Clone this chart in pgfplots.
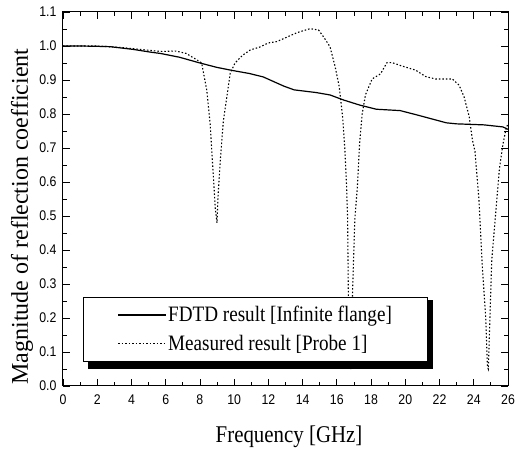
\documentclass[border=0pt]{standalone}
\usepackage{fontspec}
\setmainfont{Liberation Serif}
\newfontfamily\serifc[FakeStretch=0.87]{Liberation Serif}
\newfontfamily\tickf[FakeStretch=0.88]{Liberation Sans}
\usepackage{pgfplots}
\pgfplotsset{compat=1.18}

\begin{document}
\begin{tikzpicture}
\begin{axis}[
  scale only axis,
  width=445pt, height=374pt,
  xmin=0, xmax=26, ymin=0, ymax=1.1,
  xtick={0,2,...,26},
  ytick={0,0.1,0.2,0.3,0.4,0.5,0.6,0.7,0.8,0.9,1.0,1.1},
  minor x tick num=1, minor y tick num=1,
  tick align=inside,
  major tick length=7pt, minor tick length=4pt,
  every tick/.style={black, line width=0.8pt},
  axis line style={line width=1pt},
  tick label style={font=\tickf\fontsize{14}{16}\selectfont},
  /pgf/number format/assume math mode=true,
  yticklabel style={xshift=-3pt, /pgf/number format/fixed,
                    /pgf/number format/fixed zerofill, /pgf/number format/precision=1},
  xticklabel style={yshift=-5pt},
  xlabel={Frequency [GHz]},
  ylabel={Magnitude of reflection coefficient},
  xlabel style={at={(axis description cs:0.508,-0.152)}, anchor=base,
                font=\serifc\fontsize{24}{28}\selectfont},
  ylabel style={at={(axis description cs:-0.0787,0.453)}, anchor=base,
                font=\fontsize{24}{28}\selectfont},
  legend style={at={(axis description cs:0.045,0.064)}, anchor=south west,
                draw=black, line width=0.8pt, fill=white,
                font=\serifc\fontsize{22}{26}\selectfont,
                inner xsep=34pt, inner ysep=8pt, row sep=9pt,
                nodes={inner sep=1.5pt}},
  legend cell align=left,
  legend image code/.code={\draw[#1] (0pt,0pt) -- (48pt,0pt);},
]
% FDTD result
\addplot[black, line width=1.2pt] coordinates {
  (0,1.0) (1,1.0) (2,0.999) (2.75,0.998) (4.1,0.99) (5.1,0.982) (5.7,0.978)
  (6.8,0.967) (8.0,0.95) (9.0,0.937) (9.9,0.928) (10.9,0.919) (11.7,0.909)
  (12.9,0.882) (13.5,0.871) (14.8,0.863) (15.6,0.856) (16.4,0.841)
  (17.35,0.826) (18.3,0.814) (19.7,0.81) (20.7,0.797) (22.4,0.774)
  (23.0,0.771) (24.6,0.768) (25.7,0.762) (26,0.755)};
% Measured result
\addplot[black, line width=1.1pt, dash pattern=on 1.5pt off 2pt] coordinates {
  (0,1.0) (2,1.0) (3.3,0.996) (4.5,0.99) (5.7,0.984) (6.6,0.985) (7.2,0.978)
  (7.8,0.96) (8.1,0.95) (8.4,0.87) (8.6,0.77) (8.7,0.685) (8.8,0.605)
  (8.9,0.52) (9.0,0.48) (9.06,0.56) (9.2,0.67) (9.37,0.78) (9.6,0.86)
  (9.77,0.92) (10.05,0.95) (10.5,0.973) (10.93,0.988) (11.5,0.997)
  (12.0,1.009) (12.5,1.013) (13.66,1.039) (14.44,1.051) (14.93,1.047)
  (15.22,1.027) (15.6,0.998) (15.9,0.939) (16.14,0.88) (16.34,0.79)
  (16.47,0.694) (16.57,0.586) (16.63,0.488) (16.67,0.28) (16.75,0.1)
  (16.82,0.05) (16.92,0.28) (17.05,0.49) (17.2,0.586) (17.33,0.714)
  (17.48,0.80) (17.67,0.856) (18.06,0.903) (18.55,0.918) (18.93,0.951)
  (19.23,0.951) (19.81,0.941) (20.6,0.929) (21.19,0.91) (21.77,0.903)
  (22.75,0.903) (23.14,0.885) (23.43,0.851) (23.73,0.793) (23.92,0.724)
  (24.07,0.69) (24.3,0.55) (24.5,0.35) (24.7,0.2) (24.8,0.056) (24.85,0.05)
  (25.05,0.37) (25.35,0.55) (25.5,0.64) (25.7,0.71) (25.9,0.76) (26,0.77)};
\legend{FDTD result [Infinite flange], Measured result [Probe 1]}
% legend drop shadow
\fill[black] (axis description cs:0.0562,0.0455) rectangle (axis description cs:0.8315,0.23);
\end{axis}
\pgfresetboundingbox
\path[use as bounding box] (current axis.south west) ++(-63pt,-63pt) rectangle ++(516pt,449pt);
\end{tikzpicture}
\end{document}
